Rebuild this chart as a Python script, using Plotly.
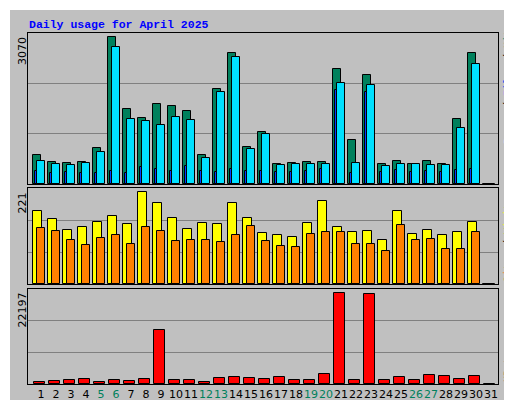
import plotly.graph_objects as go

days = list(range(1, 32))
hits = [594,450,430,450,737,3009,1535,1351,1638,1597,1494,594,1945,2682,757,1064,409,430,450,450,2354,901,2231,409,471,409,471,409,1331,2682,0]
files = [471,409,389,430,655,2804,1331,1290,1208,1372,1310,532,1883,2600,716,1024,389,409,409,409,2067,430,2027,368,409,409,389,389,1146,2456,0]
pages = [266,225,246,225,225,266,225,348,307,266,368,266,246,307,266,266,246,246,266,307,1924,225,1883,246,287,246,266,246,287,307,0]
visits = [175,156,130,137,149,163,144,221,193,159,132,146,144,193,159,122,118,113,146,199,137,125,127,106,175,120,130,118,125,149,0]
sites = [135,127,106,94,110,117,96,137,127,103,106,106,101,117,139,103,91,89,120,125,125,96,96,79,142,106,108,84,84,125,0]
kbytes = [560,800,1045,1290,560,1045,800,1290,13200,1045,1045,560,1530,1775,1530,1290,1775,1045,1045,2500,22197,1045,21950,1045,1775,1045,2260,2020,1290,2020,0]
weekend = [5,6,12,13,19,20,26,27]
max_hits, max_visits, max_kb = 3070, 221, 22197

line = dict(color="black", width=1)
fig = go.Figure()
def bar(y, color, off, w, xa, ya):
    fig.add_trace(go.Bar(x=days, y=y, marker=dict(color=color, line=line),
                         offset=off, width=w, xaxis=xa, yaxis=ya, showlegend=False))
bar(hits, "#00805C", -0.51, 0.49, "x", "y")
bar(files, "#00E0FF", -0.25, 0.49, "x", "y")
bar(pages, "#0040FF", -0.4, 0.15, "x", "y")
bar(visits, "#FFFF00", -0.51, 0.56, "x2", "y2")
bar(sites, "#FF8000", -0.25, 0.49, "x2", "y2")
bar(kbytes, "#FF0000", -0.47, 0.71, "x3", "y3")

xr = [0.133, 31.47]
xd = [20/512, 490/512]
def yd(t, b): return [1 - b/400, 1 - t/400]
ticktext = [f"<span style='color:#00805C'>{d}</span>" if d in weekend else str(d) for d in days]
common = dict(range=xr, domain=xd, showgrid=False, zeroline=False, showline=True, linecolor="black", mirror=True, fixedrange=True)
def yax(top, dom):
    return dict(range=[0, top], domain=dom, tickvals=[top/3, 2*top/3], showticklabels=False, ticks="",
                gridcolor="#808080", gridwidth=1, zeroline=False, showline=True, linecolor="black", mirror=True)
fig.update_layout(
    width=512, height=400, margin=dict(l=0, r=0, t=0, b=0),
    paper_bgcolor="#C0C0C0", plot_bgcolor="#C0C0C0", barmode="overlay", bargap=0,
    xaxis=dict(**common, anchor="y", showticklabels=False, ticks=""),
    xaxis2=dict(**common, anchor="y2", showticklabels=False, ticks=""),
    xaxis3=dict(**common, anchor="y3", tickvals=days, ticktext=ticktext, ticks="", tickangle=0,
                tickfont=dict(family="DejaVu Sans", size=11, color="black")),
    yaxis=yax(max_hits*151/150, yd(25, 176)),
    yaxis2=yax(max_visits*287/276, yd(180, 276)),
    yaxis3=yax(max_kb*95/91.4, yd(281, 376)),
    font=dict(family="DejaVu Sans Mono"),
)
rf = dict(family="Liberation Mono", size=10, color="black")
ann = [
    dict(x=19/512, y=1-16/400, text="<b>Daily usage for April 2025</b>", xanchor="left", yanchor="middle",
         font=dict(family="Liberation Mono", size=11.5, color="#0000FF")),
    dict(x=14/512, y=1-27/400, text=str(max_hits), textangle=-90, yanchor="top", xanchor="center"),
    dict(x=14/512, y=1-183/400, text=str(max_visits), textangle=-90, yanchor="top", xanchor="center"),
    dict(x=14/512, y=1-283/400, text=str(max_kb), textangle=-90, yanchor="top", xanchor="center"),
    dict(x=500/512, y=1-138/400, yanchor="bottom", xanchor="center", textangle=-90,
         text="<span style='color:#00E0FF'>Pages</span> / <span style='color:#0040FF'>Files</span> / <span style='color:#00805C'>Hits</span>",
         font=rf),
    dict(x=500/512, y=1-276/400, yanchor="bottom", xanchor="center", textangle=-90,
         text="<span style='color:#FF8000'>Sites</span> / <span style='color:#FFFF00'>Visits</span>",
         font=rf),
    dict(x=500/512, y=1-376/400, yanchor="bottom", xanchor="center", textangle=-90,
         text="KBytes", font=dict(family="Liberation Mono", size=10, color="#FF0000")),
]
for a in ann[1:4]:
    a["font"] = dict(family="DejaVu Sans", size=11, color="black")
for a in ann:
    a.update(xref="paper", yref="paper", showarrow=False)
fig.update_layout(annotations=ann)
fig.update_layout(shapes=[
    dict(type="line", xref="paper", yref="paper", x0=0, x1=1, y0=1, y1=1, line=dict(color="white", width=4)),
    dict(type="line", xref="paper", yref="paper", x0=0, x1=0, y0=0, y1=1, line=dict(color="white", width=4)),
    dict(type="line", xref="paper", yref="paper", x0=1, x1=1, y0=0, y1=1, line=dict(color="#808080", width=8)),
    dict(type="line", xref="paper", yref="paper", x0=0, x1=1, y0=0, y1=0, line=dict(color="#808080", width=8)),
])
fig.write_html("out.html")
